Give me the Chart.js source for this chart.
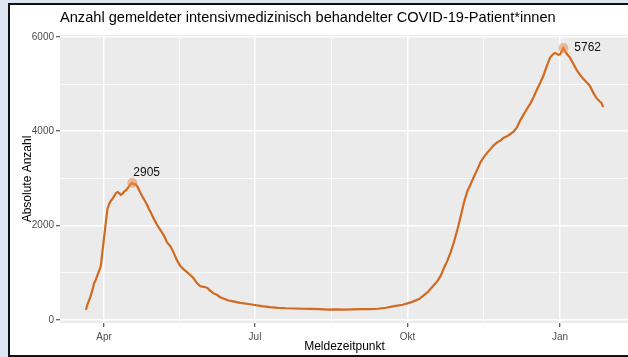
<!DOCTYPE html>
<html>
<head>
<meta charset="utf-8">
<script src="https://cdn.jsdelivr.net/npm/chart.js@4"></script>
<style>
  html, body { margin: 0; padding: 0; overflow: hidden; width: 628px; height: 357px; background: #dce6f2; }
  #frame {
    position: absolute; left: 8px; top: 3px; width: 624px; height: 350px;
    background: #fff; border-left: 2px solid #111; border-top: 2px solid #111; border-bottom: 2px solid #111;
  }
  canvas { display: block; }
</style>
</head>
<body>
<div id="frame"><canvas id="icu-chart" width="624" height="350"></canvas></div>
<script>
// days counted from 2020-04-01
var days = [-11, -10, -9, -8, -7, -6, -5, -4, -3, -2, -1, 0, 1, 2, 3, 4, 5, 6, 7, 8, 9, 10, 11, 12, 13, 14, 15, 16, 17, 18, 19, 20,
  21, 22, 23, 24, 25, 26, 27, 28, 30, 32, 34, 36, 38, 40, 42, 44, 46, 48, 50, 52, 54, 56, 58, 60, 62, 64, 66, 68, 70, 72, 75,
  78, 82, 86, 90, 95, 100, 105, 110, 115, 120, 125, 130, 135, 140, 145, 150, 155, 160, 165, 170, 175, 180, 185, 190, 195,
  198, 201, 203, 205, 207, 209, 211, 213, 215, 217, 219, 221, 223, 225, 227, 229, 231, 233, 235, 237, 239, 241, 243, 245,
  247, 249, 251, 253, 255, 257, 259, 261, 263, 265, 267, 269, 271, 272, 273, 274, 275, 276, 277, 278, 279, 281, 283, 285,
  287, 289, 291, 293, 295, 297, 299, 300, 301];
var patients = [210, 330, 420, 520, 640, 780, 850, 950, 1040, 1140, 1450, 1750, 2050, 2350, 2450, 2520, 2560, 2620, 2680, 2710, 2690, 2650, 2670, 2720, 2740, 2780, 2830, 2880, 2905, 2870, 2880, 2830,
  2760, 2690, 2620, 2560, 2500, 2430, 2350, 2290, 2140, 2010, 1900, 1790, 1640, 1560, 1420, 1260, 1140, 1070, 1010, 950, 880, 780, 710, 700, 680, 620, 560, 530, 480, 450, 410,
  390, 360, 340, 320, 290, 270, 255, 245, 240, 235, 230, 225, 215, 220, 215, 220, 225, 225, 235, 255, 290, 320, 370, 440, 580,
  700, 820, 930, 1100, 1250, 1430, 1650, 1900, 2180, 2480, 2720, 2870, 3030, 3180, 3340, 3450, 3540, 3620, 3700, 3760, 3800, 3860, 3890, 3940,
  3990, 4080, 4230, 4350, 4470, 4580, 4720, 4880, 5020, 5180, 5380, 5560, 5640, 5660, 5640, 5620, 5630, 5690, 5762, 5700, 5640, 5560, 5430, 5300,
  5200, 5110, 5040, 4960, 4820, 4700, 4630, 4600, 4510];

var peakDays = [17, 277];
var peakValues = [2905, 5762];

var monthTicks = [0, 91, 183, 275];
var monthLabels = ['Apr', 'Jul', 'Okt', 'Jan'];
var yTicks = [0, 2000, 4000, 6000];

var titleText = 'Anzahl gemeldeter intensivmedizinisch behandelter COVID-19-Patient*innen';
var fontFamily = '"Liberation Sans", Arial, sans-serif';

// minor breaks sit halfway between the major ones
function minorBetween(major) {
  var out = [];
  for (var i = 0; i < major.length - 1; i++) out.push((major[i] + major[i + 1]) / 2);
  return out;
}

// 5% expansion on both ends like ggplot
var xPad = (days[days.length - 1] - days[0]) * 0.05;
var yPad = (Math.max.apply(null, patients) - Math.min.apply(null, patients)) * 0.05;

var majorX = monthTicks, minorX = minorBetween(monthTicks);
var majorY = yTicks, minorY = minorBetween(yTicks);

function gridWidth(majors) {
  return function (c) { return c.tick && majors.indexOf(c.tick.value) >= 0 ? 1.5 : 0.8; };
}
function tickMarkColor(majors) {
  return function (c) { return c.tick && majors.indexOf(c.tick.value) >= 0 ? '#333333' : 'rgba(0,0,0,0)'; };
}

var panelBackground = {
  id: 'panelBackground',
  beforeDraw: function (chart) {
    var a = chart.chartArea, c = chart.ctx;
    c.save();
    c.fillStyle = '#ebebeb';
    c.fillRect(a.left, a.top, a.right - a.left, a.bottom - a.top);
    c.restore();
  }
};

var plotTitle = {
  id: 'plotTitle',
  afterDraw: function (chart) {
    var c = chart.ctx;
    c.save();
    c.font = '14.6px ' + fontFamily;
    c.fillStyle = '#000';
    c.textBaseline = 'alphabetic';
    c.fillText(titleText, chart.chartArea.left, 17);
    c.restore();
  }
};

var peakLabelOffsets = [[1, -10], [11, 0]];
var peakLabels = {
  id: 'peakLabels',
  afterDatasetsDraw: function (chart) {
    var c = chart.ctx;
    var meta = chart.getDatasetMeta(1);
    c.save();
    c.font = '12px ' + fontFamily;
    c.fillStyle = '#111';
    c.textAlign = 'left';
    c.textBaseline = 'middle';
    meta.data.forEach(function (pt, i) {
      c.fillText(String(peakValues[i]), pt.x + peakLabelOffsets[i][0], pt.y + peakLabelOffsets[i][1]);
    });
    c.restore();
  }
};

var ctx = document.getElementById('icu-chart').getContext('2d');
var icuChart = new Chart(ctx, {
  type: 'line',
  data: {
    datasets: [{
      data: days.map(function (d, i) { return { x: d, y: patients[i] }; }),
      borderColor: '#d2691e',
      borderWidth: 2.2,
      pointRadius: 0,
      fill: false,
      order: 1
    }, {
      type: 'scatter',
      data: peakDays.map(function (d, i) { return { x: d, y: peakValues[i] }; }),
      backgroundColor: 'rgba(232, 140, 80, 0.55)',
      borderWidth: 0,
      pointRadius: 5,
      order: 0
    }]
  },
  options: {
    responsive: false,
    animation: false,
    events: [],
    layout: { padding: { top: 30, right: 2, left: 0, bottom: 0 } },
    plugins: {
      legend: { display: false },
      tooltip: { enabled: false },
      title: { display: false }
    },
    scales: {
      x: {
        type: 'linear',
        bounds: 'data',
        min: days[0] - xPad,
        max: days[days.length - 1] + xPad,
        afterBuildTicks: function (s) {
          s.ticks = majorX.concat(minorX).sort(function (a, b) { return a - b; })
            .map(function (v) { return { value: v }; });
        },
        afterFit: function (s) { s.height = 32; },
        border: { display: false },
        grid: {
          color: '#ffffff',
          lineWidth: gridWidth(majorX),
          tickColor: tickMarkColor(majorX),
          tickLength: 4,
          tickWidth: 1
        },
        ticks: {
          autoSkip: false,
          maxRotation: 0,
          padding: 4,
          color: '#4d4d4d',
          font: { size: 10, family: fontFamily },
          callback: function (v) {
            var k = monthTicks.indexOf(v);
            return k >= 0 ? monthLabels[k] : '';
          }
        },
        title: {
          display: true,
          text: 'Meldezeitpunkt',
          color: '#000',
          font: { size: 12, family: fontFamily },
          padding: { top: 0, bottom: 1 }
        }
      },
      y: {
        bounds: 'data',
        min: Math.min.apply(null, patients) - yPad,
        max: Math.max.apply(null, patients) + yPad,
        afterBuildTicks: function (s) {
          s.ticks = majorY.concat(minorY).sort(function (a, b) { return a - b; })
            .map(function (v) { return { value: v }; });
        },
        afterFit: function (s) { s.width = 50; },
        border: { display: false },
        grid: {
          color: '#ffffff',
          lineWidth: gridWidth(majorY),
          tickColor: tickMarkColor(majorY),
          tickLength: 4,
          tickWidth: 1
        },
        ticks: {
          autoSkip: false,
          padding: 2,
          color: '#4d4d4d',
          font: { size: 10, family: fontFamily },
          callback: function (v) { return majorY.indexOf(v) >= 0 ? String(v) : ''; }
        },
        title: {
          display: true,
          text: 'Absolute Anzahl',
          color: '#000',
          font: { size: 12, family: fontFamily },
          padding: { top: 10, bottom: 0 }
        }
      }
    }
  },
  plugins: [panelBackground, plotTitle, peakLabels]
});
</script>
</body>
</html>
